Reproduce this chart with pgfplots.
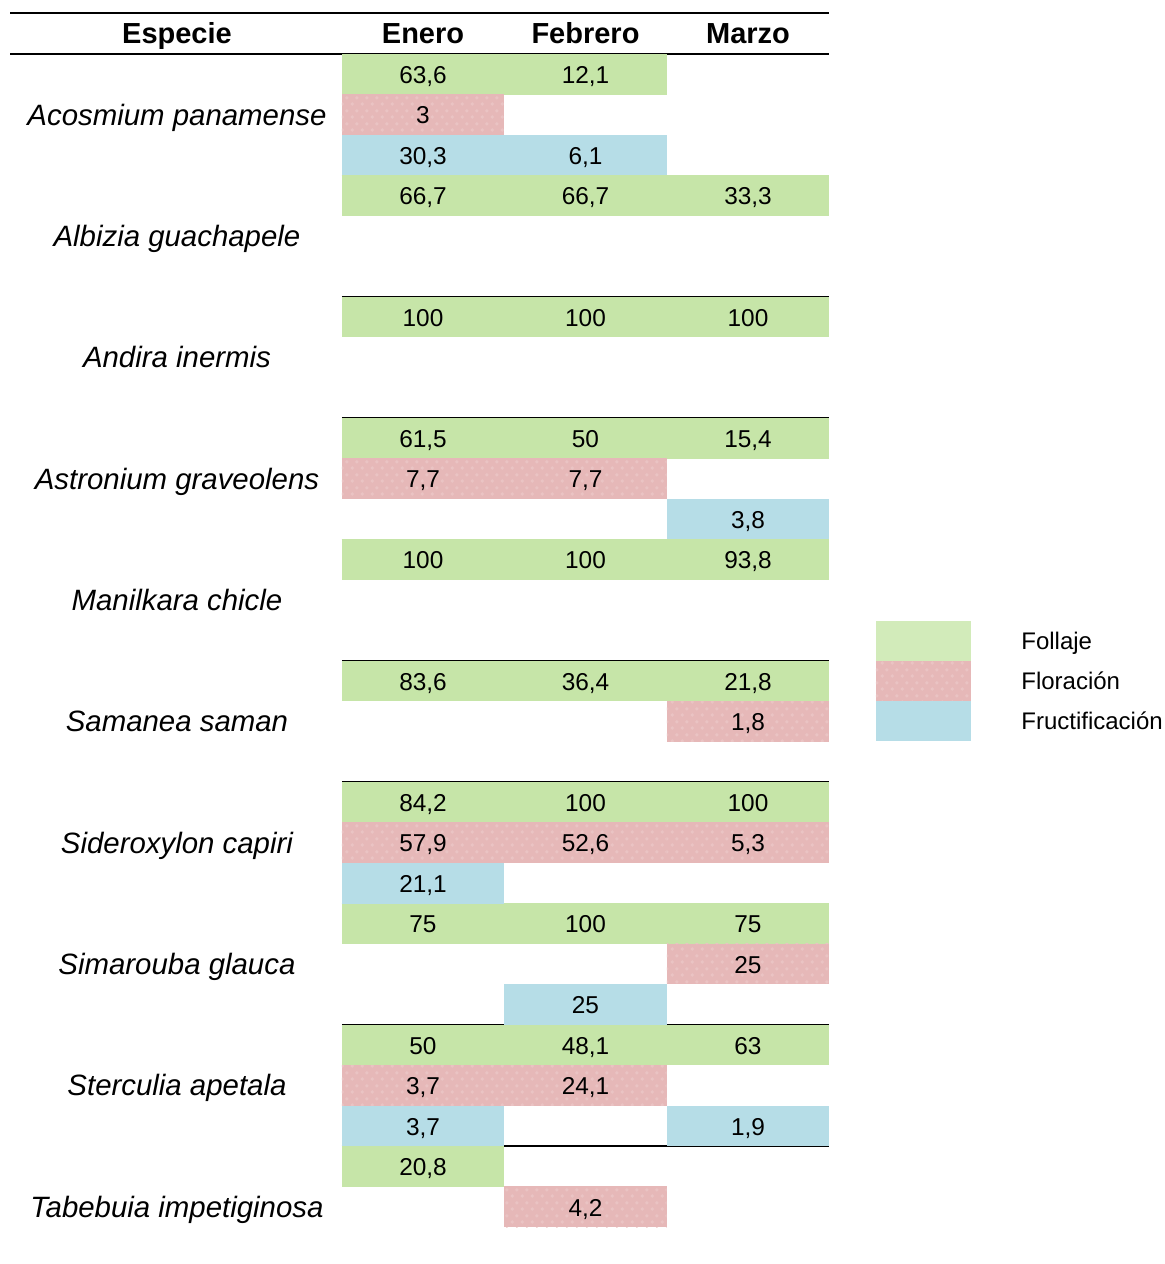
\documentclass[border=0pt]{standalone}
\usepackage{pgfplots}
\pgfplotsset{compat=1.18}
\usepackage{fontspec}
\setmainfont{Liberation Sans}
\definecolor{follaje}{HTML}{C6E5A8}
\definecolor{floracion}{HTML}{E6B8B8}
\definecolor{flordot}{HTML}{EAC3C3}
\definecolor{fruct}{HTML}{B6DDE7}
\definecolor{follajeL}{HTML}{D2EBBA}
\pgfdeclarepatternformonly{blobs}{\pgfpointorigin}{\pgfpoint{5pt}{6.5pt}}{\pgfpoint{5pt}{6.5pt}}{%
  \pgfpathcircle{\pgfpoint{1.25pt}{1.6pt}}{1pt}%
  \pgfpathcircle{\pgfpoint{3.75pt}{4.85pt}}{1pt}%
  \pgfusepath{fill}}
\pgfdeclareplotmark{cell}{%
  \pgfpathrectangle{\pgfpoint{-40.68pt}{-10.16pt}}{\pgfpoint{81.36pt}{20.32pt}}\pgfusepathqfill}
\pgfdeclareplotmark{cellpat}{%
  \pgfpathrectangle{\pgfpoint{-40.6pt}{-10.1pt}}{\pgfpoint{81.2pt}{20.2pt}}%
  \pgfsetfillpattern{blobs}{flordot}\pgfusepathqfill}
\pgfdeclareplotmark{legcell}{%
  \pgfpathrectangle{\pgfpoint{-23.75pt}{-10.05pt}}{\pgfpoint{47.5pt}{20.1pt}}\pgfusepathqfill}
\pgfdeclareplotmark{legcellpat}{%
  \pgfpathrectangle{\pgfpoint{-23.75pt}{-10pt}}{\pgfpoint{47.5pt}{20pt}}%
  \pgfsetfillpattern{blobs}{flordot}\pgfusepathqfill}

% columns: x = 1 Enero, 2 Febrero, 3 Marzo ; y = row (3 per species)
\pgfplotstableread{
x y v
1 1 63.6
2 1 12.1
1 4 66.7
2 4 66.7
3 4 33.3
1 7 100
2 7 100
3 7 100
1 10 61.5
2 10 50
3 10 15.4
1 13 100
2 13 100
3 13 93.8
1 16 83.6
2 16 36.4
3 16 21.8
1 19 84.2
2 19 100
3 19 100
1 22 75
2 22 100
3 22 75
1 25 50
2 25 48.1
3 25 63
1 28 20.8
}\follaje
\pgfplotstableread{
x y v
1 2 3
1 11 7.7
2 11 7.7
3 17 1.8
1 20 57.9
2 20 52.6
3 20 5.3
3 23 25
1 26 3.7
2 26 24.1
2 29 4.2
}\floracion
\pgfplotstableread{
x y v
1 3 30.3
2 3 6.1
3 12 3.8
1 21 21.1
2 24 25
1 27 3.7
3 27 1.9
}\fruct

\begin{document}
\begin{tikzpicture}
\begin{axis}[
  name=ax,
  scale only axis,
  width=582.5pt, height=632pt,
  xmin=-1.6031, xmax=5.5662,
  ymin=-0.8344, ymax=30.414,
  y dir=reverse,
  hide axis,
  clip=false,
  point meta=explicit,
  /pgf/number format/.cd, use comma, 1000 sep={}, assume math mode=true,
  /pgfplots/.cd,
  every node near coord/.append style={anchor=base, yshift=-4.6pt,
     font=\fontsize{12.2}{14}\selectfont, text=black},
]
\addplot[only marks, mark=cell, mark options={fill=follaje, draw=none},
  nodes near coords] table[x=x, y=y, meta=v] {\follaje};
\addplot[only marks, mark=cell, mark options={fill=floracion, draw=none},
  forget plot] table[x=x, y=y, meta=v] {\floracion};
\addplot[only marks, mark=cellpat, mark options={draw=none},
  nodes near coords] table[x=x, y=y, meta=v] {\floracion};
\addplot[only marks, mark=cell, mark options={fill=fruct, draw=none},
  nodes near coords] table[x=x, y=y, meta=v] {\fruct};

% legend swatches
\addplot[only marks, mark=legcell, mark options={fill=follajeL, draw=none}] coordinates {(4.08,15.01)};
\addplot[only marks, mark=legcell, mark options={fill=floracion, draw=none}] coordinates {(4.08,16.0)};
\addplot[only marks, mark=legcellpat, mark options={draw=none}] coordinates {(4.08,16.0)};
\addplot[only marks, mark=legcell, mark options={fill=fruct, draw=none}] coordinates {(4.08,16.99)};

% rules
\draw[line width=0.7pt] (axis cs:-1.5415,-0.513) -- (axis cs:3.5,-0.513);
\draw[line width=0.7pt] (axis cs:-1.5415,0.5) -- (axis cs:3.5,0.5);
\pgfplotsinvokeforeach{3.5,6.5,9.5,12.5,15.5,18.5,21.5,24.5,27.5}{
  \draw[line width=0.7pt] (axis cs:0.5,#1) -- (axis cs:3.5,#1);
}

% header
\begin{scope}[every node/.style={anchor=base, yshift=-5pt, font=\bfseries\fontsize{14.5}{17}\selectfont}]
\node at (axis cs:-0.514,0) {Especie};
\node at (axis cs:1,0) {Enero};
\node at (axis cs:2,0) {Febrero};
\node at (axis cs:3,0) {Marzo};
\end{scope}

% species
\begin{scope}[every node/.style={anchor=base, yshift=-5.2pt, font=\itshape\fontsize{14.7}{17}\selectfont}]
\node at (axis cs:-0.514,2) {Acosmium panamense};
\node at (axis cs:-0.514,5) {Albizia guachapele};
\node at (axis cs:-0.514,8) {Andira inermis};
\node at (axis cs:-0.514,11) {Astronium graveolens};
\node at (axis cs:-0.514,14) {Manilkara chicle};
\node at (axis cs:-0.514,17) {Samanea saman};
\node at (axis cs:-0.514,20) {Sideroxylon capiri};
\node at (axis cs:-0.514,23) {Simarouba glauca};
\node at (axis cs:-0.514,26) {Sterculia apetala};
\node at (axis cs:-0.514,29) {Tabebuia impetiginosa};
\end{scope}

% legend text
\begin{scope}[every node/.style={anchor=base west, inner xsep=0pt, yshift=-4.1pt, font=\fontsize{12}{14}\selectfont}]
\node at (axis cs:4.68,15.01) {Follaje};
\node at (axis cs:4.68,16.0) {Floración};
\node at (axis cs:4.68,16.99) {Fructificación};
\end{scope}
\end{axis}
\pgfresetboundingbox
\path (ax.south west) rectangle (ax.north east);
\end{tikzpicture}
\end{document}
